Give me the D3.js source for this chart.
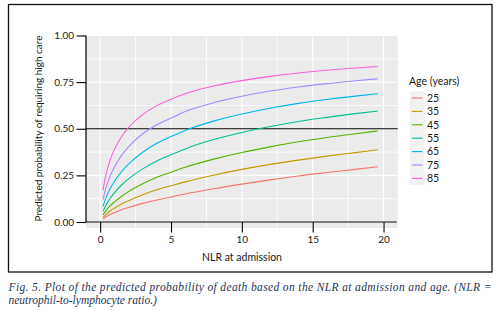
<!DOCTYPE html>
<html lang="en">
<head>
<meta charset="UTF-8">
<title>Predicted probability by NLR and age</title>
<script src="https://d3js.org/d3.v7.min.js"></script>
<style>
    body { margin: 0; background: #fff; }
    svg text { font-family: Lato, "Noto Sans", sans-serif; fill: #1a1a1a; }
    .caption text { font-family: "Liberation Serif", "DejaVu Serif", serif; font-style: italic; fill: #1e3556; }
</style>
</head>
<body>
<script>
// NLR values where the curves were read
var nlr = [0.2, 0.4, 0.7, 1, 1.5, 2, 3, 4, 5, 6, 8, 10, 12, 14, 16, 18, 19.6];
var ages = ["25", "35", "45", "55", "65", "75", "85"];
// predicted probability, one array per age group
var p25 = [0.017, 0.027, 0.040, 0.050, 0.066, 0.078, 0.100, 0.118, 0.134, 0.150, 0.178, 0.203, 0.226, 0.247, 0.265, 0.282, 0.296];
var p35 = [0.025, 0.040, 0.059, 0.074, 0.096, 0.114, 0.146, 0.173, 0.194, 0.215, 0.251, 0.282, 0.309, 0.332, 0.353, 0.372, 0.387];
var p45 = [0.038, 0.060, 0.086, 0.107, 0.137, 0.163, 0.205, 0.240, 0.267, 0.294, 0.337, 0.373, 0.403, 0.430, 0.453, 0.473, 0.488];
var p55 = [0.057, 0.089, 0.126, 0.156, 0.197, 0.231, 0.285, 0.327, 0.360, 0.392, 0.442, 0.480, 0.512, 0.539, 0.561, 0.581, 0.595];
var p65 = [0.083, 0.128, 0.178, 0.217, 0.269, 0.310, 0.374, 0.422, 0.458, 0.491, 0.541, 0.579, 0.610, 0.636, 0.657, 0.675, 0.688];
var p75 = [0.120, 0.181, 0.245, 0.294, 0.356, 0.403, 0.473, 0.522, 0.557, 0.592, 0.639, 0.674, 0.702, 0.724, 0.742, 0.757, 0.768];
var p85 = [0.171, 0.251, 0.331, 0.388, 0.456, 0.506, 0.576, 0.624, 0.658, 0.688, 0.729, 0.758, 0.781, 0.799, 0.814, 0.826, 0.834];
var series = [p25, p35, p45, p55, p65, p75, p85];
var colors = ["#F8766D", "#C49A00", "#53B400", "#00C094", "#00B6EB", "#A58AFF", "#FB61D7"];
var xTicks = [0, 5, 10, 15, 20];
var xMinor = [2.5, 7.5, 12.5, 17.5];
var yTicks = [0, 0.25, 0.5, 0.75, 1];
var yMinor = [0.125, 0.375, 0.625, 0.875];

var width = 503, height = 311;
var svg = d3.select("body").append("svg")
    .attr("width", width)
    .attr("height", height);

// outer frame
svg.append("rect")
    .attr("x", 8.5).attr("y", 4.5)
    .attr("width", 483.5).attr("height", 267.5)
    .attr("fill", "none").attr("stroke", "#111").attr("stroke-width", 1.3);

var x = d3.scaleLinear().domain([-1, 21]).range([86, 397.7]);
var y = d3.scaleLinear().domain([0, 1]).range([222, 35.5]);

// panel
svg.append("rect")
    .attr("x", 86).attr("y", 35.5)
    .attr("width", 311.7).attr("height", 192.5)
    .attr("fill", "#EBEBEB");

var grid = svg.append("g").attr("stroke", "#fff");
grid.selectAll(".vx").data(xTicks.concat(xMinor)).enter().append("line")
    .attr("x1", function(d) { return x(d); }).attr("x2", function(d) { return x(d); })
    .attr("y1", 35.5).attr("y2", 228)
    .attr("stroke-width", function(d) { return xTicks.indexOf(d) >= 0 ? 1.1 : 0.8; });
grid.selectAll(".hy").data(yTicks.concat(yMinor)).enter().append("line")
    .attr("x1", 86).attr("x2", 397.7)
    .attr("y1", function(d) { return y(d); }).attr("y2", function(d) { return y(d); })
    .attr("stroke-width", function(d) { return yTicks.indexOf(d) >= 0 ? 1.1 : 0.8; });

// reference line at 0.5
svg.append("line")
    .attr("x1", 86).attr("x2", 397.7)
    .attr("y1", y(0.5)).attr("y2", y(0.5))
    .attr("stroke", "#000").attr("stroke-width", 1.2);

// curves
var line = d3.line()
    .x(function(d, i) { return x(nlr[i]); })
    .y(function(d) { return y(d); })
    .curve(d3.curveMonotoneX);

svg.selectAll(".curve").data(series).enter().append("path")
    .attr("class", "curve")
    .attr("d", line)
    .attr("fill", "none")
    .attr("stroke", function(d, i) { return colors[i]; })
    .attr("stroke-width", 1.1);

// axes
var xAxis = svg.append("g")
    .attr("transform", "translate(0," + y(0) + ")")
    .call(d3.axisBottom(x).tickValues(xTicks).tickSize(10.5).tickPadding(3).tickFormat(d3.format("d")));
xAxis.select(".domain").attr("d", "M86,0H396.7").attr("stroke", "#000").attr("stroke-width", 1.2);
xAxis.selectAll(".tick line").attr("stroke", "#000").attr("stroke-width", 1.1);
xAxis.selectAll(".tick text").attr("font-size", 10).attr("fill", "#222");

var yAxis = svg.append("g")
    .attr("transform", "translate(86,0)")
    .call(d3.axisLeft(y).tickValues(yTicks).tickSize(9.5).tickPadding(2.5).tickFormat(d3.format(".2f")));
yAxis.select(".domain").attr("d", "M0," + y(1) + "V" + y(0)).attr("stroke", "#000").attr("stroke-width", 1.2);
yAxis.selectAll(".tick line").attr("stroke", "#000").attr("stroke-width", 1.1);
yAxis.selectAll(".tick text").attr("font-size", 10).attr("fill", "#222");

// axis titles
svg.append("text")
    .attr("x", 242).attr("y", 260.5)
    .attr("text-anchor", "middle").attr("font-size", 10.5)
    .text("NLR at admission");

svg.append("text")
    .attr("transform", "translate(41.5,128.5) rotate(-90)")
    .attr("text-anchor", "middle").attr("font-size", 10)
    .attr("textLength", 186).attr("lengthAdjust", "spacingAndGlyphs")
    .text("Predicted probability of requiring high care");

// legend
var legend = svg.append("g");
legend.append("text")
    .attr("x", 409).attr("y", 85.3)
    .attr("font-size", 10.5)
    .text("Age (years)");

var keyH = 13.4, keyY0 = 91.3;
legend.append("rect")
    .attr("x", 410).attr("y", keyY0)
    .attr("width", 14.3).attr("height", keyH * ages.length)
    .attr("fill", "#F2F2F2");

var keys = legend.selectAll(".key").data(ages).enter().append("g")
    .attr("transform", function(d, i) { return "translate(410," + (keyY0 + keyH * i + keyH / 2) + ")"; });
keys.append("line")
    .attr("x1", 1.8).attr("x2", 12.5)
    .attr("stroke", function(d, i) { return colors[i]; })
    .attr("stroke-width", 1.1);
keys.append("text")
    .attr("x", 17).attr("dy", "0.36em")
    .attr("font-size", 10.5)
    .text(function(d) { return d; });

// caption
var cap = svg.append("g").attr("class", "caption");
cap.append("text")
    .attr("x", 8.5).attr("y", 290.5)
    .attr("font-size", 11.5)
    .attr("textLength", 483).attr("lengthAdjust", "spacing")
    .text("Fig. 5. Plot of the predicted probability of death based on the NLR at admission and age. (NLR =");
cap.append("text")
    .attr("x", 8.5).attr("y", 303.5)
    .attr("font-size", 11.5)
    .text("neutrophil-to-lymphocyte ratio.)");
</script>
</body>
</html>
